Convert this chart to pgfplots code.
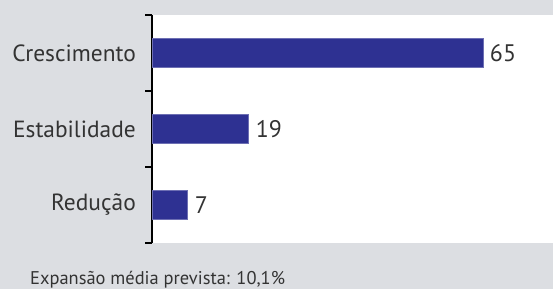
\documentclass[border=0pt]{standalone}
\usepackage{pgfplots}
\pgfplotsset{compat=1.18}
\usepackage{fontspec}
\setmainfont{PT Sans}
\definecolor{bg}{HTML}{DCDEE2}
\definecolor{barc}{HTML}{2E3192}
\definecolor{txt}{HTML}{333333}
\begin{document}
\begin{tikzpicture}[x=1bp,y=1bp]
\clip (0,0) rectangle (553,289);
\fill[bg] (0,0) rectangle (553,289);
\begin{axis}[
  at={(152bp,46bp)}, anchor=south west,
  scale only axis, width=401bp, height=228bp,
  xbar, bar width=29bp,
  xmin=0, xmax=78.8, ymin=-0.5, ymax=2.5,
  axis background/.style={fill=white},
  axis y line=left, axis x line=none,
  axis line style={-, black, line width=1.2pt},
  ytick={0,1,2}, yticklabels={Redução,Estabilidade,Crescimento},
  major tick length=0pt,
  minor ytick={-0.5,0.5,1.5,2.5},
  minor tick length=7bp,
  tick align=outside,
  minor tick style={black, line width=1.2pt},
  /pgf/number format/assume math mode=true,
  yticklabel style={font=\fontsize{23.5}{26}\selectfont, text=txt, inner sep=0pt, xshift=-16bp},
  nodes near coords,
  nodes near coords style={font=\fontsize{24}{27}\selectfont, text=txt, anchor=west, inner sep=0pt, xshift=7bp},
]
\addplot[fill=barc, draw=barc!70!white, line width=0.4pt] coordinates {(7,0) (19,1) (65,2)};
\end{axis}
\node[anchor=base west, inner sep=0pt, text=txt, font=\fontsize{18.5}{22}\selectfont] at (30,5) {Expansão média prevista: 10,1\%};
\end{tikzpicture}
\end{document}
